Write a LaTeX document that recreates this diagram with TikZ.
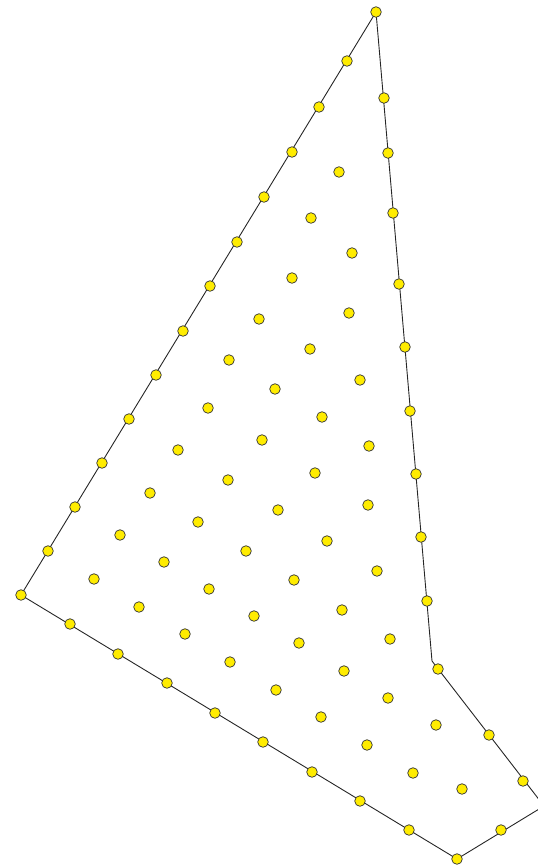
\documentclass[tikz,border=0pt]{standalone}
\usetikzlibrary{calc}
\definecolor{ptAmarillo}{HTML}{FFEC00}
\definecolor{ptBorde}{HTML}{333333}

\begin{document}
\begin{tikzpicture}[x=1pt, y=-1pt,
      borde/.style={draw=black!85, line width=0.9pt, line join=miter},
      pt/.style={circle, draw=ptBorde, line width=0.7pt, fill=ptAmarillo,
                 inner sep=0pt, minimum size=10.6pt}]
    \useasboundingbox (0,0) rectangle (538,868);
    % esquinas del poligono
    \coordinate (sup)  at (376,12);
    \coordinate (izq)  at (21,595);
    \coordinate (inf)  at (457,859);
    \coordinate (der)  at (544,806);
    \coordinate (codo) at (432,661);
    \draw[borde] (sup) -- (izq) -- (inf) -- (der) -- (codo) -- cycle;
    % puntos del borde
    \foreach \x/\y [count=\i] in {376/12, 347/61, 319/107, 292/152, 264/197,
        237/242, 210/286, 183/331, 156/375, 129/419, 102/463, 75/507, 48/551,
        21/595, 70/624, 118/654, 167/683, 215/713, 263/742, 312/772, 360/801,
        409/830, 457/859, 501/830, 523/781, 489/735, 438/669, 427/601, 421/537,
        416/474, 410/411, 405/347, 399/284, 393/213, 388/153, 384/98}
      {\node[pt] (b\i) at (\x,\y) {};}
    % puntos interiores
    \foreach \x/\y [count=\i] in {339/172, 311/218, 352/253, 292/278, 259/319,
        349/313, 310/349, 229/360, 360/380, 275/389, 208/408, 322/417, 178/450,
        262/440, 369/446, 315/473, 228/480, 150/493, 368/505, 278/510, 198/522,
        120/535, 327/541, 246/551, 164/562, 377/571, 94/579, 294/580, 209/589,
        139/607, 342/610, 254/616, 390/639, 185/634, 299/643, 230/662, 344/671,
        276/690, 388/698, 321/717, 436/725, 367/745, 413/773, 462/789}
      {\node[pt] (p\i) at (\x,\y) {};}
  \end{tikzpicture}
\end{document}
